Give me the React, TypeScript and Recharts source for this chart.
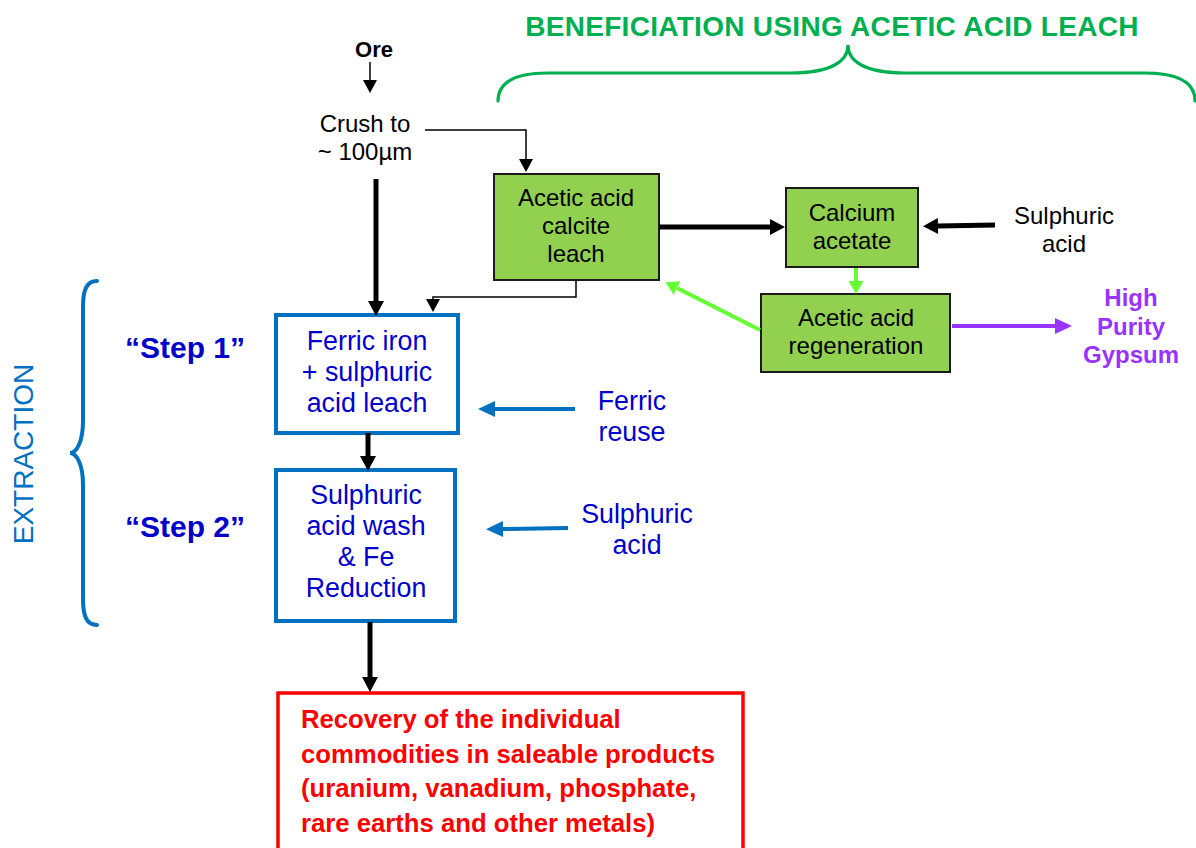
import React from 'react'
import { ComposedChart, XAxis, YAxis, Line, Scatter, ReferenceArea } from 'recharts'

const W = 1196
const H = 848
const FONT = '"Liberation Sans", Arial, Helvetica, sans-serif'

// process boxes, in diagram units (x left->right, y top->bottom)
const boxes = [
  { id: 'calciteLeach', x1: 494, x2: 659, y1: 174, y2: 280, kind: 'green' },
  { id: 'calciumAcetate', x1: 786, x2: 918, y1: 188, y2: 267, kind: 'green' },
  { id: 'regeneration', x1: 761, x2: 950, y1: 294, y2: 372, kind: 'green' },
  { id: 'step1Leach', x1: 276, x2: 458, y1: 315, y2: 433, kind: 'blue' },
  { id: 'step2Wash', x1: 276, x2: 455, y1: 470, y2: 621, kind: 'blue' },
  { id: 'recovery', x1: 278, x2: 743, y1: 693, y2: 880, kind: 'red' },
]

// flow arrows: polyline points, last point = base of the arrow head
const arrows = [
  { id: 'ore', pts: [[370, 62], [370, 80]], kind: 'thin' },
  { id: 'crushToLeach', pts: [[425, 130], [526, 130], [526, 159]], kind: 'thin' },
  { id: 'crushDown', pts: [[376, 179], [376, 301]], kind: 'thick' },
  { id: 'leachResidue', pts: [[576, 280], [576, 297], [433, 297], [433, 299]], kind: 'thin' },
  { id: 'toAcetate', pts: [[659, 227], [770, 227]], kind: 'thick' },
  { id: 'acidIn', pts: [[995, 225], [938, 226]], kind: 'thick' },
  { id: 'acetateDown', pts: [[856, 268], [856, 281]], kind: 'lime' },
  { id: 'recycle', pts: [[760, 330], [677, 288]], kind: 'lime' },
  { id: 'gypsumOut', pts: [[952, 326], [1055, 326]], kind: 'purple' },
  { id: 'ferricReuse', pts: [[575, 409], [495, 409]], kind: 'blue' },
  { id: 'acidWash', pts: [[568, 528], [503, 529]], kind: 'blue' },
  { id: 'step1to2', pts: [[368, 433], [368, 456]], kind: 'thick' },
  { id: 'toRecovery', pts: [[370, 622], [370, 677]], kind: 'thick' },
]

// text blocks: x, y of the first baseline
const labels = [
  { id: 'title', lines: ['BENEFICIATION USING ACETIC ACID LEACH'], x: 832, y: 36, kind: 'title' },
  { id: 'ore', lines: ['Ore'], x: 374, y: 57, kind: 'ore' },
  { id: 'crush', lines: ['Crush to', '~ 100µm'], x: 365, y: 132, kind: 'black' },
  { id: 'calciteLeach', lines: ['Acetic acid', 'calcite', 'leach'], x: 576, y: 206, kind: 'black' },
  { id: 'calciumAcetate', lines: ['Calcium', 'acetate'], x: 852, y: 221, kind: 'black' },
  { id: 'regeneration', lines: ['Acetic acid', 'regeneration'], x: 856, y: 326, kind: 'black' },
  { id: 'sulphuricIn', lines: ['Sulphuric', 'acid'], x: 1064, y: 224, kind: 'black' },
  { id: 'gypsum', lines: ['High', 'Purity', 'Gypsum'], x: 1131, y: 306, kind: 'gypsum' },
  { id: 'leach', lines: ['Ferric iron', '+ sulphuric', 'acid leach'], x: 367, y: 350, kind: 'blue' },
  { id: 'wash', lines: ['Sulphuric', 'acid wash', '& Fe', 'Reduction'], x: 366, y: 504, kind: 'blue' },
  { id: 'ferricReuse', lines: ['Ferric', 'reuse'], x: 632, y: 410, kind: 'blue' },
  { id: 'sulphuricWash', lines: ['Sulphuric', 'acid'], x: 637, y: 523, kind: 'blue' },
  { id: 'step1', lines: ['\u201CStep 1\u201D'], x: 185, y: 358, kind: 'step' },
  { id: 'step2', lines: ['\u201CStep 2\u201D'], x: 185, y: 537, kind: 'step' },
  { id: 'extraction', lines: ['EXTRACTION'], x: 33, y: 454, kind: 'side' },
  {
    id: 'recovery',
    lines: [
      'Recovery of the individual',
      'commodities in saleable products',
      '(uranium, vanadium, phosphate,',
      'rare earths and other metals)',
    ],
    x: 301,
    y: 728,
    kind: 'red',
  },
]

// curly braces: tip point, span (a..b), level of the long stroke, level of the ends
const braces = [
  { id: 'beneficiation', x: 848, y: 45, a: 498, b: 1195, level: 73, end: 101, kind: 'top' },
  { id: 'extraction', x: 70, y: 453, a: 281, b: 625, level: 83, end: 97, kind: 'left' },
]

const boxStyle: Record<string, any> = {
  green: { fill: '#92D050', stroke: '#1a1a1a', strokeWidth: 2 },
  blue: { fill: '#ffffff', stroke: '#0070C0', strokeWidth: 4 },
  red: { fill: '#ffffff', stroke: '#FF0000', strokeWidth: 3.5 },
}

const arrowStyle: Record<string, any> = {
  thin: { color: '#000000', width: 1.5, len: 13, half: 7 },
  thick: { color: '#000000', width: 5, len: 15, half: 8 },
  lime: { color: '#66FF33', width: 4, len: 13, half: 7.5 },
  purple: { color: '#9933FF', width: 4, len: 17, half: 8 },
  blue: { color: '#0070C0', width: 4, len: 17, half: 8 },
}

const textStyle: Record<string, any> = {
  title: { size: 28, weight: 700, color: '#00B050', anchor: 'middle', gap: 0, spacing: 0.3 },
  ore: { size: 22, weight: 700, color: '#000000', anchor: 'middle', gap: 0 },
  black: { size: 24, weight: 400, color: '#000000', anchor: 'middle', gap: 28 },
  blue: { size: 26.8, weight: 400, color: '#0000CC', anchor: 'middle', gap: 31 },
  step: { size: 30, weight: 700, color: '#0000CC', anchor: 'middle', gap: 0 },
  side: { size: 28, weight: 400, color: '#0070C0', anchor: 'middle', gap: 0, rotate: -90 },
  gypsum: { size: 24, weight: 700, color: '#9933FF', anchor: 'middle', gap: 28.5 },
  red: { size: 25.7, weight: 700, color: '#FF0000', anchor: 'start', gap: 34.7 },
}

const braceStyle: Record<string, any> = {
  top: { color: '#00B050', width: 3.2 },
  left: { color: '#0070C0', width: 4 },
}

function makeHead(arrow: (typeof arrows)[number]) {
  const st = arrowStyle[arrow.kind]
  const n = arrow.pts.length
  const [px, py] = arrow.pts[n - 2]
  const [qx, qy] = arrow.pts[n - 1]
  const d = Math.hypot(qx - px, qy - py) || 1
  const ux = (qx - px) / d
  const uy = (qy - py) / d
  return (props: any) => {
    const { cx, cy, index } = props
    if (index !== n - 1 || cx == null) return <g key={`${arrow.id}-${index}`} />
    const tip = [cx + ux * st.len, cy + uy * st.len]
    const l = [cx - uy * st.half, cy + ux * st.half]
    const r = [cx + uy * st.half, cy - ux * st.half]
    return (
      <polygon
        key={`${arrow.id}-head`}
        points={`${tip[0]},${tip[1]} ${l[0]},${l[1]} ${r[0]},${r[1]}`}
        fill={st.color}
      />
    )
  }
}

function renderLabel(props: any) {
  const { cx, cy, payload } = props
  const st = textStyle[payload.kind]
  return (
    <text
      fontFamily={FONT}
      fontSize={st.size}
      fontWeight={st.weight}
      fill={st.color}
      textAnchor={st.anchor}
      letterSpacing={st.spacing}
      transform={st.rotate ? `rotate(${st.rotate} ${cx} ${cy})` : undefined}
    >
      {payload.lines.map((s: string, i: number) => (
        <tspan key={i} x={cx} y={cy + i * st.gap}>
          {s}
        </tspan>
      ))}
    </text>
  )
}

function renderBrace(props: any) {
  const { cx, cy, payload: p } = props
  const st = braceStyle[p.kind]
  // diagram units map 1:1 to pixels, offsets taken from the scaled tip
  const X = (v: number) => cx + (v - p.x)
  const Y = (v: number) => cy + (v - p.y)
  let d = ''
  if (p.kind === 'top') {
    const a = X(p.a), b = X(p.b), L = Y(p.level), E = Y(p.end), tx = cx, ty = cy
    d = `M ${a} ${E} C ${a} ${E - 16} ${a + 12} ${L} ${a + 50} ${L} L ${tx - 58} ${L} ` +
      `C ${tx - 16} ${L} ${tx} ${L - 12} ${tx} ${ty} C ${tx} ${L - 12} ${tx + 16} ${L} ${tx + 58} ${L} ` +
      `L ${b - 50} ${L} C ${b - 12} ${L} ${b} ${E - 16} ${b} ${E}`
  } else {
    const a = Y(p.a), b = Y(p.b), L = X(p.level), E = X(p.end), tx = cx, ty = cy
    d = `M ${E} ${a} C ${E - 10} ${a} ${L} ${a + 8} ${L} ${a + 26} L ${L} ${ty - 32} ` +
      `C ${L} ${ty - 10} ${tx + 6} ${ty} ${tx} ${ty} C ${tx + 6} ${ty} ${L} ${ty + 10} ${L} ${ty + 32} ` +
      `L ${L} ${b - 26} C ${L} ${b - 8} ${E - 10} ${b} ${E} ${b}`
  }
  return <path d={d} fill="none" stroke={st.color} strokeWidth={st.width} strokeLinecap="round" />
}

export default function App() {
  return (
    <div style={{ width: W, height: H, background: '#ffffff' }}>
      <style>{'body{margin:0;background:#fff}'}</style>
      <ComposedChart width={W} height={H} margin={{ top: 0, right: 0, bottom: 0, left: 0 }}>
        <XAxis type="number" dataKey="x" domain={[0, W]} hide />
        <YAxis type="number" dataKey="y" domain={[0, H]} reversed hide />
        {boxes.map(b => (
          <ReferenceArea
            key={b.id}
            x1={b.x1}
            x2={b.x2}
            y1={b.y1}
            y2={b.y2}
            ifOverflow="visible"
            fill={boxStyle[b.kind].fill}
            fillOpacity={1}
            stroke={boxStyle[b.kind].stroke}
            strokeWidth={boxStyle[b.kind].strokeWidth}
          />
        ))}
        {arrows.map(a => (
          <Line
            key={a.id}
            data={a.pts.map(([x, y]) => ({ x, y }))}
            dataKey="y"
            type="linear"
            stroke={arrowStyle[a.kind].color}
            strokeWidth={arrowStyle[a.kind].width}
            dot={makeHead(a)}
            activeDot={false}
            legendType="none"
            isAnimationActive={false}
          />
        ))}
        <Scatter data={braces} shape={renderBrace} isAnimationActive={false} legendType="none" />
        <Scatter data={labels} shape={renderLabel} isAnimationActive={false} legendType="none" />
      </ComposedChart>
    </div>
  )
}
